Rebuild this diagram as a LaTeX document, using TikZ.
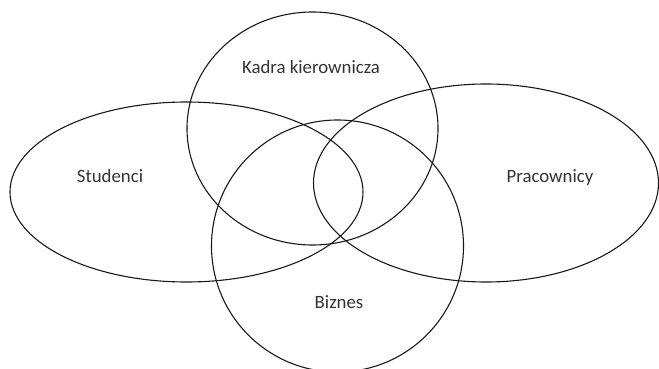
\documentclass[tikz,border=0pt]{standalone}
\usepackage{fontspec}
\setmainfont{Carlito}
\begin{document}
\begin{tikzpicture}[x=1pt,y=-1pt,
  setline/.style={draw=black!90,line width=1.1pt},
  setlabel/.style={anchor=base,inner sep=0pt,text=black!80,font=\fontsize{18.8}{22}\selectfont}]
\useasboundingbox (0,0) rectangle (659,369);
\clip (0,0) rectangle (659,369);
% sets
\draw[setline] (186.5,192) ellipse [x radius=176.5, y radius=90];
\draw[setline] (312.5,128.5) ellipse [x radius=125.5, y radius=116.5];
\draw[setline] (486,183) ellipse [x radius=172.5, y radius=99];
\draw[setline] (337.5,246) ellipse [x radius=126, y radius=126];
% labels
\node[setlabel] (studenci) at (110,182) {Studenci};
\node[setlabel] (kadra) at (311,74) {Kadra kierownicza};
\node[setlabel] (pracownicy) at (550,182) {Pracownicy};
\node[setlabel] (biznes) at (339,308) {Biznes};
\end{tikzpicture}
\end{document}
